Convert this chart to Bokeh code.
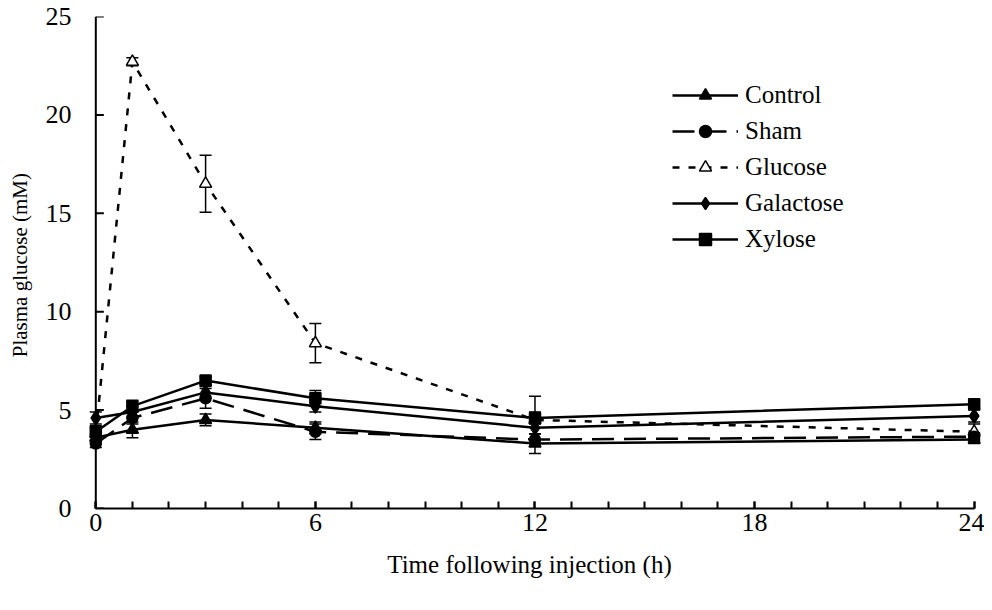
from bokeh.plotting import figure
from bokeh.models import (Range1d, FixedTicker, Legend, LegendItem, Whisker,
                          ColumnDataSource, TeeHead, Span)
from bokeh.embed import file_html
from bokeh.resources import INLINE

# ---- data ----
times = [0, 1, 3, 6, 12, 24]
control = [3.6, 4.0, 4.5, 4.1, 3.3, 3.5]
control_err = [0.2, 0.4, 0.3, 0.3, 0.5, 0.2]
sham = [3.3, 4.6, 5.6, 3.9, 3.5, 3.65]
sham_err = [0.2, 0.3, 0.5, 0.4, 0.3, 0.2]
glucose = [3.8, 22.7, 16.5, 8.4, 4.5, 3.9]
glucose_err = [0.4, 0.2, 1.45, 1.0, 1.2, 0.4]
galactose = [4.6, 4.9, 5.9, 5.2, 4.1, 4.7]
galactose_err = [0.3, 0.3, 0.3, 0.3, 0.3, 0.3]
xylose = [3.9, 5.2, 6.5, 5.6, 4.6, 5.3]
xylose_err = [0.2, 0.3, 0.2, 0.4, 0.3, 0.2]

series_names = ["Control", "Sham", "Glucose", "Galactose", "Xylose"]
x_major = [0, 6, 12, 18, 24]
x_minor = list(range(0, 25))
y_ticks = [0, 5, 10, 15, 20, 25]

FONT = "'Liberation Serif', 'Times New Roman', serif"

p = figure(width=984, height=594, output_backend="svg", toolbar_location=None,
           x_range=Range1d(-0.5, 24.2), y_range=Range1d(0, 25),
           min_border_left=77, min_border_right=3, min_border_top=16,
           min_border_bottom=86)
p.outline_line_color = None
p.grid.visible = False
p.background_fill_color = "white"
p.border_fill_color = "white"

# x axis
xa = p.xaxis[0]
xa.ticker = FixedTicker(ticks=x_major, minor_ticks=x_minor)
xa.bounds = (0, 24)
xa.axis_line_width = 2
xa.axis_line_color = "black"
xa.major_tick_in = 7
xa.major_tick_out = 0
xa.minor_tick_in = 7
xa.minor_tick_out = 0
xa.major_tick_line_width = 2
xa.minor_tick_line_width = 2
xa.major_label_text_font = FONT
xa.major_label_text_font_size = "26px"
xa.major_label_text_color = "black"
xa.major_label_standoff = 5
xa.axis_label = "Time following injection (h)"
xa.axis_label_text_font = FONT
xa.axis_label_text_font_size = "25px"
xa.axis_label_text_font_style = "normal"
xa.axis_label_text_color = "black"
xa.axis_label_standoff = 17

# y axis: labels and title from the normal axis; its line drawn at x = 0
ya = p.yaxis[0]
ya.ticker = FixedTicker(ticks=y_ticks, minor_ticks=[])
ya.axis_line_color = None
ya.major_tick_line_color = None
ya.minor_tick_line_color = None
ya.major_tick_in = 0
ya.major_tick_out = 0
ya.major_label_text_font = FONT
ya.major_label_text_font_size = "26px"
ya.major_label_text_color = "black"
ya.major_label_standoff = 6
ya.axis_label = "Plasma glucose  (mM)"
ya.axis_label_text_font = FONT
ya.axis_label_text_font_size = "21px"
ya.axis_label_text_font_style = "normal"
ya.axis_label_text_color = "black"
ya.axis_label_standoff = 11

p.add_layout(Span(location=0, dimension="height", line_color="black",
                  line_width=2))
tick_len = 0.22  # in hours (~8 px)
p.segment(x0=[0] * len(y_ticks), x1=[tick_len] * len(y_ticks),
          y0=y_ticks, y1=y_ticks, line_color="black", line_width=2)

specs = {
    "Control": (control, control_err, "triangle", "black", None, 12),
    "Sham": (sham, sham_err, "circle", "black", "22 10", 11),
    "Glucose": (glucose, glucose_err, "triangle", "white", "7 9", 12),
    "Galactose": (galactose, galactose_err, "diamond", "black", None, 14),
    "Xylose": (xylose, xylose_err, "square", "black", None, 11),
}
draw_order = ["Glucose", "Control", "Sham", "Galactose", "Xylose"]

rend = {}
for name in draw_order:
    vals, errs, marker, fill, dash, size = specs[name]
    src = ColumnDataSource(dict(
        x=times, y=vals,
        lo=[v - e for v, e in zip(vals, errs)],
        hi=[v + e for v, e in zip(vals, errs)]))
    w = Whisker(source=src, base="x", lower="lo", upper="hi",
                line_color="black", line_width=1.5,
                upper_head=TeeHead(size=12, line_width=1.5, line_color="black"),
                lower_head=TeeHead(size=12, line_width=1.5, line_color="black"))
    p.add_layout(w)
    if dash:
        lr = p.line("x", "y", source=src, line_color="black", line_width=2.5,
                    line_dash=dash)
    else:
        lr = p.line("x", "y", source=src, line_color="black", line_width=2.5)
    sr = p.scatter("x", "y", source=src, marker=marker, size=size,
                   fill_color=fill, line_color="black", line_width=1.5)
    rend[name] = [lr, sr]

items = [LegendItem(label=n, renderers=rend[n]) for n in series_names]

legend = Legend(items=items, location=(595, 254), orientation="vertical",
                glyph_width=66, glyph_height=30, label_height=30, spacing=6,
                padding=0, margin=0, label_standoff=7,
                label_text_font=FONT, label_text_font_size="25px",
                label_text_color="black",
                border_line_color=None, background_fill_alpha=0)
p.add_layout(legend, "center")

open("out.html", "w").write(file_html(p, INLINE))
